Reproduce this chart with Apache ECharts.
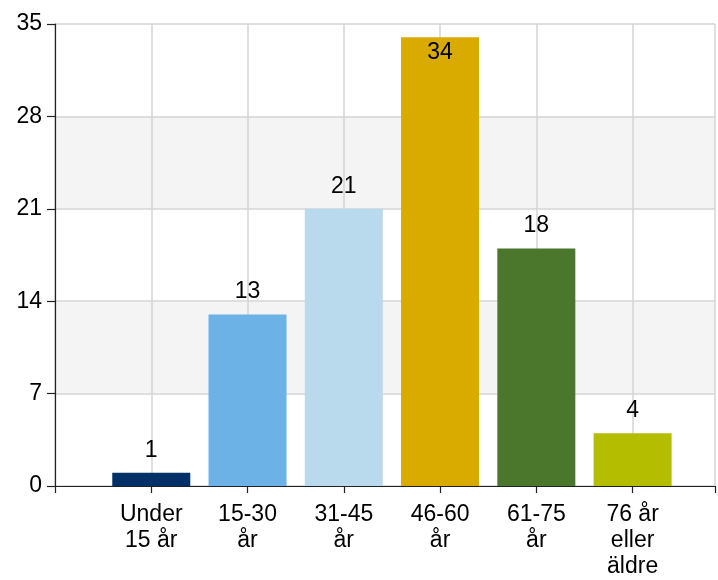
<!DOCTYPE html>
<html>
<head>
<meta charset="utf-8">
<style>
  html, body { margin: 0; padding: 0; background: #fff; }
  #chart { width: 718px; height: 580px; }
</style>
<script src="https://cdn.jsdelivr.net/npm/echarts@6/dist/echarts.min.js"></script>
</head>
<body>
<div id="chart"></div>
<script>
// Age groups and respondent counts
const categories = ['Under\n15 år', '15-30\når', '31-45\når', '46-60\når', '61-75\når', '76 år\neller\näldre'];
const counts = [1, 13, 21, 34, 18, 4];
const yTicks = [0, 7, 14, 21, 28, 35];

const barColors = ['#003068', '#6cb2e6', '#b9d9ec', '#d9aa00', '#4b772c', '#b5bd00'];
const fontFamily = '"Liberation Sans", Arial, sans-serif';

const chart = echarts.init(document.getElementById('chart'), null, { renderer: 'canvas' });

// Bars sit at positions 1..n on a numeric axis that starts at the y-axis line
const seriesData = counts.map((v, i) => {
  const item = {
    value: [i + 1, v],
    itemStyle: { color: barColors[i] }
  };
  // The tallest bar carries its label inside, just under the top edge
  if (v === Math.max(...counts)) {
    item.label = { position: 'insideTop', distance: 4 };
  }
  return item;
});

chart.setOption({
  animation: false,
  backgroundColor: '#ffffff',
  // the plot runs off the right edge of the canvas
  grid: { left: 55, right: -2, top: 24, bottom: 87, containLabel: false },
  xAxis: {
    type: 'value',
    min: 0,
    max: 6.856,
    interval: 1,
    axisLine: { show: true, lineStyle: { color: '#222', width: 1.2 } },
    axisTick: { show: true, length: 7, lineStyle: { color: '#222', width: 1.2 } },
    axisLabel: {
      margin: 16,
      color: '#000',
      fontFamily: fontFamily,
      fontSize: 23,
      lineHeight: 26,
      align: 'center',
      formatter: function (v) {
        const idx = Math.round(v) - 1;
        if (Math.abs(v - Math.round(v)) > 1e-6 || idx < 0 || idx >= categories.length) return '';
        return categories[idx];
      }
    },
    splitLine: { show: true, lineStyle: { color: '#d4d4d4', width: 1.5 } }
  },
  yAxis: {
    type: 'value',
    min: yTicks[0],
    max: yTicks[yTicks.length - 1],
    interval: 7,
    axisLine: { show: true, lineStyle: { color: '#222', width: 1.2 } },
    axisTick: { show: true, length: 8, lineStyle: { color: '#222', width: 1.2 } },
    axisLabel: {
      margin: 13,
      color: '#000',
      fontFamily: fontFamily,
      fontSize: 23
    },
    splitLine: { show: true, lineStyle: { color: '#d4d4d4', width: 1.5 } },
    splitArea: { show: true, areaStyle: { color: ['#ffffff', '#f4f4f4'] } }
  },
  series: [{
    type: 'bar',
    barWidth: 78,
    data: seriesData,
    label: {
      show: true,
      position: 'top',
      distance: 11,
      color: '#000',
      fontFamily: fontFamily,
      fontSize: 23,
      formatter: function (p) { return p.value[1]; }
    }
  }]
});
</script>
</body>
</html>
